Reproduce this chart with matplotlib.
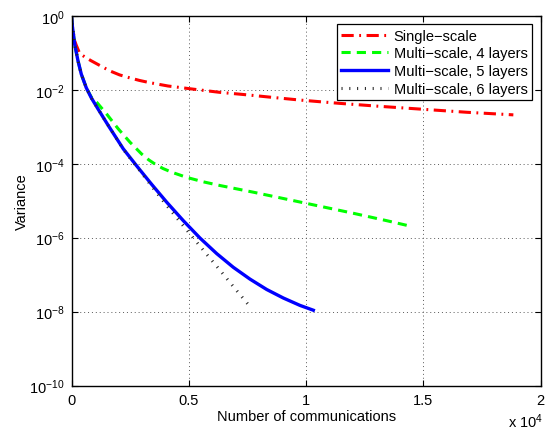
import matplotlib
matplotlib.use("Agg")
import matplotlib.pyplot as plt
from matplotlib.ticker import FixedLocator, NullLocator, LogFormatterSciNotation

plt.rcParams['font.family'] = ['Liberation Sans', 'DejaVu Sans']
plt.rcParams['mathtext.fontset'] = 'custom'
plt.rcParams['mathtext.rm'] = 'Liberation Sans'
plt.rcParams['mathtext.it'] = 'Liberation Sans'
plt.rcParams['mathtext.default'] = 'regular'

# ---- data (x in number of communications, y as log10 of variance) ----
single_x = [0, 40, 136, 205, 350, 600, 844, 1250, 1628, 2050, 2481, 2900, 3333, 4114, 5124, 6300, 7500, 8600, 9740, 11446, 13151, 14997, 16848, 18834]
single_logy = [0, -0.30, -0.68, -0.80, -1.02, -1.13, -1.22, -1.36, -1.49, -1.60, -1.68, -1.75, -1.81, -1.90, -1.98, -2.07, -2.14, -2.21, -2.28, -2.37, -2.45, -2.53, -2.61, -2.68]

ms4_x = [0, 40, 136, 277, 418, 631, 844, 1074, 1501, 1995, 2494, 2992, 3300, 3560, 3900, 4271, 4911, 5619, 6331, 7750, 9174, 10594, 12013, 13437, 14388]
ms4_logy = [0, -0.30, -0.77, -1.22, -1.58, -1.95, -2.20, -2.34, -2.66, -3.06, -3.42, -3.74, -3.90, -4.01, -4.13, -4.23, -4.37, -4.49, -4.59, -4.77, -4.96, -5.15, -5.34, -5.54, -5.68]

ms5_x = [0, 40, 136, 277, 418, 631, 844, 1130, 1569, 2208, 2779, 3419, 4058, 4766, 5478, 6190, 6897, 7610, 8321, 9029, 9740, 10308]
ms5_logy = [0, -0.30, -0.77, -1.22, -1.58, -1.95, -2.22, -2.52, -2.97, -3.60, -4.06, -4.56, -5.04, -5.54, -6.01, -6.43, -6.80, -7.12, -7.40, -7.63, -7.83, -7.96]

ms6_x = [0, 40, 136, 277, 418, 631, 844, 1130, 1569, 2208, 2779, 3419, 4058, 4625, 5192, 5764, 6330, 6897, 7396, 7682]
ms6_logy = [0, -0.30, -0.77, -1.22, -1.58, -1.95, -2.22, -2.52, -2.97, -3.61, -4.08, -4.61, -5.13, -5.57, -6.01, -6.45, -6.88, -7.32, -7.70, -7.92]

labels = ['Single\u2212scale', 'Multi\u2212scale, 4 layers', 'Multi\u2212scale, 5 layers', 'Multi\u2212scale, 6 layers']
xticks = [0, 5000, 10000, 15000, 20000]
xticklabels = ['0', '0.5', '1', '1.5', '2']
yticks = [1e-10, 1e-8, 1e-6, 1e-4, 1e-2, 1e0]

fig = plt.figure(figsize=(5.47, 4.31), dpi=100)
ax = fig.add_axes([71.5/547, 1-386.7/431, (540.7-71.5)/547, (386.7-16.7)/431])

def pw(v):
    return [10.0**e for e in v]

ax.semilogy(single_x, pw(single_logy), color='red', lw=2.2, linestyle=(0, (4, 1.8, 0.6, 1.8)), label=labels[0])
ax.semilogy(ms4_x, pw(ms4_logy), color='#00ff00', lw=2.2, linestyle=(0, (3, 2)), label=labels[1])
ax.semilogy(ms5_x, pw(ms5_logy), color='blue', lw=2.4, linestyle='-', label=labels[2])
l6, = ax.semilogy(ms6_x, pw(ms6_logy), color='0.15', lw=2.2, linestyle=(0, (0.35, 2.2)), label=labels[3])
l6.set_dash_capstyle('butt')

ax.set_xlim(0, 20000)
ax.set_ylim(1e-10, 1)
ax.xaxis.set_major_locator(FixedLocator(xticks))
ax.set_xticklabels(xticklabels)
ax.yaxis.set_major_locator(FixedLocator(yticks))
ax.yaxis.set_major_formatter(LogFormatterSciNotation())
ax.yaxis.set_minor_locator(NullLocator())

ax.tick_params(direction='in', length=4, width=0.8, top=True, right=True, labelsize=10.5, pad=5)
ax.grid(True, which='major', color='0.35', linestyle=(0, (1, 3)), linewidth=0.7)
for s in ax.spines.values():
    s.set_linewidth(1.0)

ax.set_xlabel('Number of communications', fontsize=10.5, labelpad=2)
ax.set_ylabel('Variance', fontsize=10.5, labelpad=0.5)
fig.text(508/547, 1-428/431, r'x $10^{4}$', fontsize=10.5, ha='left', va='baseline')

leg = ax.legend(loc='upper right', fontsize=10.5, frameon=True, fancybox=False,
                edgecolor='black', framealpha=1, borderaxespad=0.6,
                handlelength=3.2, handletextpad=0.4, labelspacing=0.25, borderpad=0.3)
leg.get_frame().set_linewidth(0.9)

fig.savefig('out.png', dpi=100)
